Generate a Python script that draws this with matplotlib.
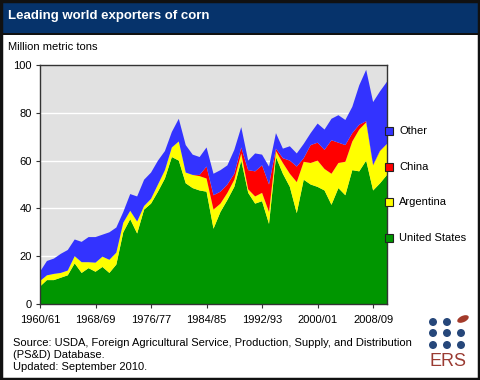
import matplotlib
matplotlib.use("Agg")
import matplotlib.pyplot as plt
from matplotlib.patches import Rectangle, Ellipse

plt.rcParams['font.family'] = ['Liberation Sans', 'DejaVu Sans']

# marketing years 1960/61 .. 2010/11
seasons = list(range(1960, 2011))
tick_seasons = [1960, 1968, 1976, 1984, 1992, 2000, 2008]
tick_labels = ['1960/61', '1968/69', '1976/77', '1984/85', '1992/93', '2000/01', '2008/09']

# million metric tons
united_states = [7.3, 10, 10, 11, 12, 17, 13, 15, 13.5, 15.5, 13, 16.5, 30, 35.5, 29.5, 39.5,
                 42, 47, 52.5, 61.5, 60, 50.5, 48.5, 47.5, 47, 31.5, 38.5, 43.5, 49, 60, 46.5,
                 42, 43, 33.5, 61.5, 54.5, 49, 38, 52, 50, 49, 47.5, 41.5, 48.5, 45.5, 56, 55.5,
                 60, 47.5, 50.5, 54]
argentina = [2.3, 2, 2.6, 2, 2, 3, 4.5, 2.5, 3.8, 4.3, 5.5, 5, 4, 3.5, 5, 1.5, 2, 3, 3.5, 4, 8,
             4.5, 5.5, 6, 5.5, 8, 3.5, 3, 3, 3, 1.5, 3, 3.5, 5, 2.5, 4.5, 5.5, 13, 7.5, 9, 11, 9,
             13, 10.5, 14, 12, 17.5, 16, 10.5, 13.5, 13]
china = [0, 0, 0, 0, 0, 0, 0, 0, 0, 0, 0, 0, 0, 0, 0, 0, 0, 0, 0, 0, 0, 0, 0, 0.5, 5, 6, 5, 3.5,
         2.5, 2.5, 8, 10.5, 11.5, 11.5, 1, 2, 5.5, 6.5, 1.5, 7.5, 7.5, 8, 14, 8.5, 7, 3.5, 2,
         0.5, 0.2, 0.2, 0]
other = [3.9, 6, 6.4, 8, 8.6, 7, 8.5, 10.5, 10.7, 9.2, 11.5, 10.5, 4.5, 7, 10.5, 11, 11, 10, 8,
         6.5, 9.5, 11.5, 8.5, 7.5, 8, 9, 9, 8, 10, 8.5, 4, 7.5, 4.5, 7.5, 6.5, 4, 6, 5.5, 6, 5,
         8, 8.5, 9, 11.5, 10.5, 11, 16.5, 21.5, 26.3, 24.8, 26]

names = ['United States', 'Argentina', 'China', 'Other']
colors = ['#009600', '#ffff00', '#ff0000', '#3333ff']

fig = plt.figure(figsize=(4.8, 3.8), dpi=100)

def fx(px):
    return px / 480.0

def fy(py):
    return 1 - py / 380.0

# header bar
fig.patches.append(Rectangle((0, fy(34)), 1, fy(0) - fy(34), transform=fig.transFigure,
                             facecolor='#06336b', edgecolor='none', zorder=0))
fig.patches.append(Rectangle((0, fy(35)), 1, fy(33) - fy(35), transform=fig.transFigure,
                             facecolor='#111111', edgecolor='none', zorder=1))
fig.patches.append(Rectangle((0.002, 0.003), 0.996, 0.994, transform=fig.transFigure,
                             facecolor='none', edgecolor='#111111', linewidth=2.5, zorder=5))
fig.text(fx(8), fy(16), 'Leading world exporters of corn', color='white', fontsize=9.5,
         fontweight='bold', va='center', ha='left')
fig.text(fx(8), fy(47), 'Million metric tons', fontsize=8, va='center', ha='left')

ax = fig.add_axes([fx(40), fy(304), fx(387) - fx(40), fy(65) - fy(304)])
ax.set_facecolor('#e1e1e1')
ax.stackplot(seasons, united_states, argentina, china, other, colors=colors, linewidth=0)
ax.set_xlim(1960, 2010)
ax.set_ylim(0, 100)
ax.set_yticks([0, 20, 40, 60, 80, 100])
ax.set_xticks(tick_seasons)
ax.set_xticklabels(tick_labels)
ax.tick_params(labelsize=8, length=3, color='#333333')
ax.tick_params(axis='x', pad=5)
ax.tick_params(axis='y', pad=3)
for y in [20, 40, 60, 80]:
    ax.axhline(y, color='white', linewidth=1, zorder=0.5)
ax.set_axisbelow(True)
for s in ax.spines.values():
    s.set_color('#333333')
    s.set_linewidth(1)

# legend squares beside the right edge
leg_y = [131, 167, 202, 238]
for name, col, py in zip(names[::-1], colors[::-1], leg_y):
    fig.patches.append(Rectangle((fx(385), fy(py + 4)), fx(8), fy(py - 4) - fy(py + 4),
                                 transform=fig.transFigure, facecolor=col,
                                 edgecolor='#222222', linewidth=0.8, zorder=6))
    fig.text(fx(399), fy(py), name, fontsize=8, va='center', ha='left')

fig.text(fx(13), fy(355), 'Source: USDA, Foreign Agricultural Service, Production, Supply, and Distribution\n'
         '(PS&D) Database.\nUpdated: September 2010.', fontsize=8, va='center', ha='left',
         linespacing=1.2)

# ERS logo
dot_x = [433, 447, 461]
dot_y = [322, 333, 345]
for j, dy in enumerate(dot_y):
    for i, dx in enumerate(dot_x):
        if j == 0 and i == 2:
            continue
        fig.patches.append(Ellipse((fx(dx), fy(dy)), fx(8), fy(0) - fy(8),
                                   transform=fig.transFigure, facecolor='#26477a',
                                   edgecolor='none', zorder=6))
fig.patches.append(Ellipse((fx(463), fy(319)), fx(13), fy(0) - fy(6), angle=35,
                           transform=fig.transFigure, facecolor='#a33a2a',
                           edgecolor='none', zorder=6))
fig.text(fx(448), fy(362), 'ERS', color='#9a3b32', fontsize=13, va='center', ha='center')

fig.savefig('out.png', dpi=100)
